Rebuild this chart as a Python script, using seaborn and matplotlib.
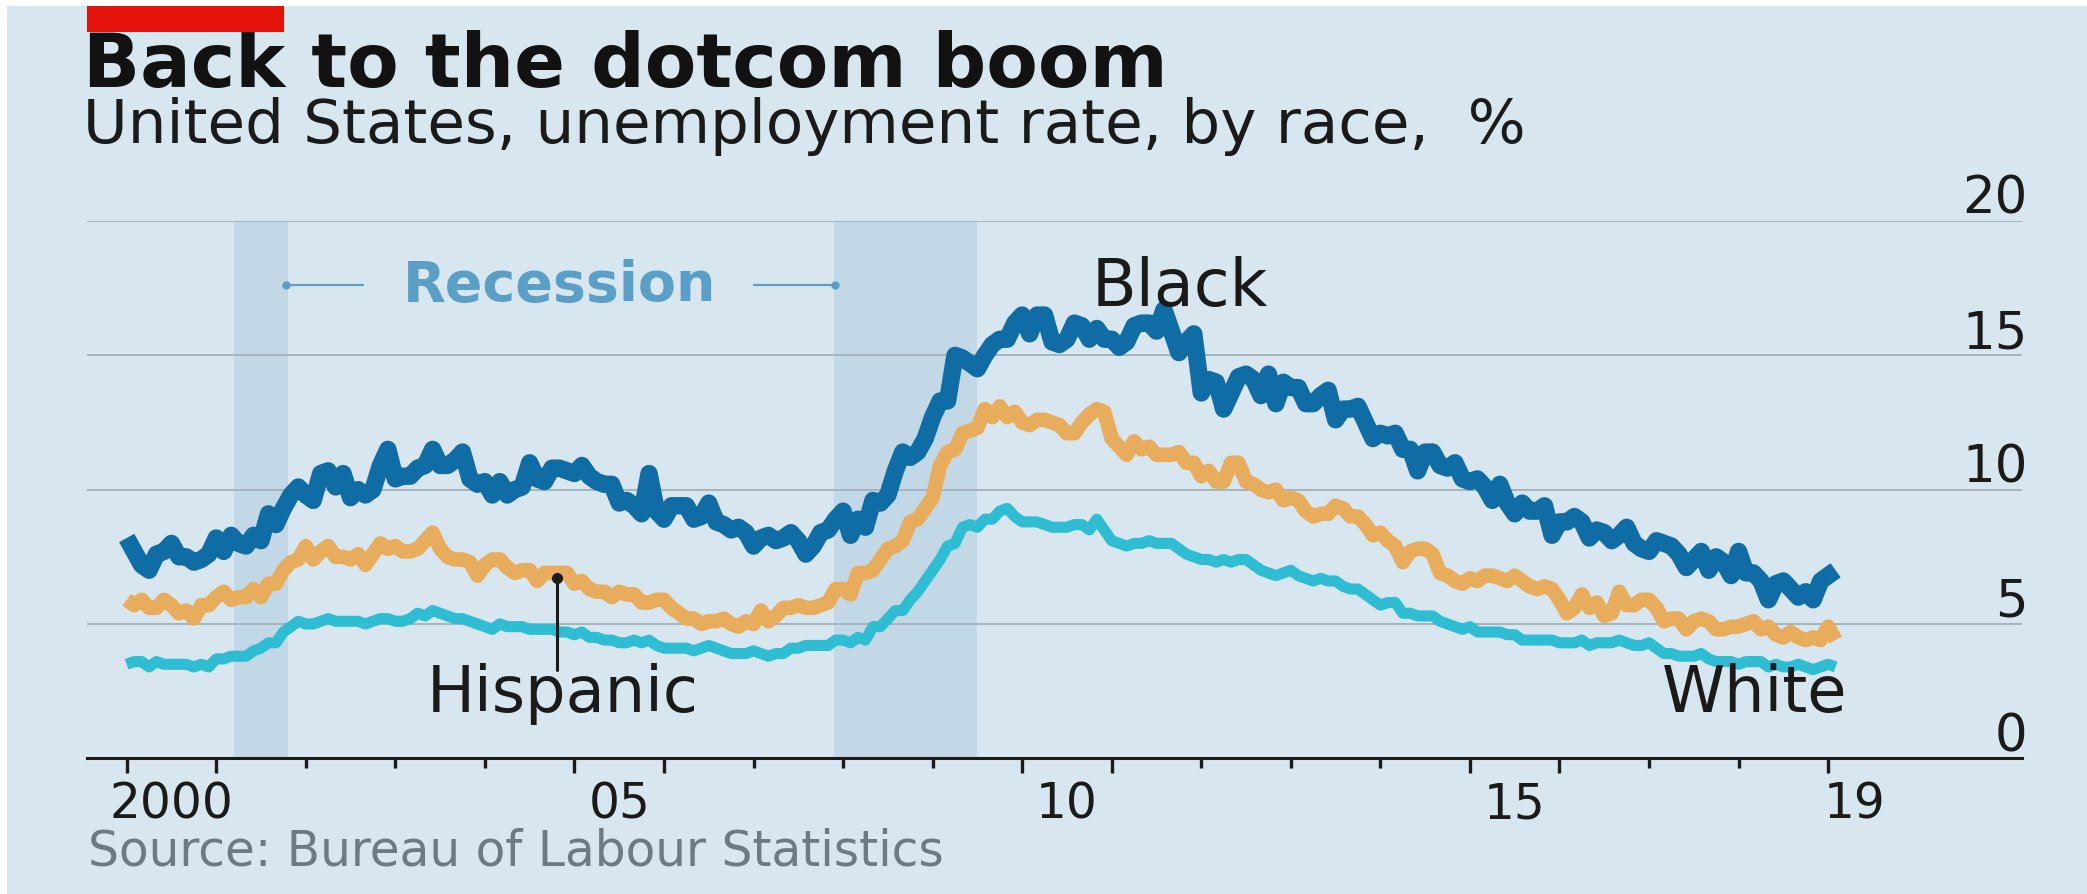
import numpy as np
import pandas as pd
import matplotlib
matplotlib.use("Agg")
import matplotlib.pyplot as plt
import matplotlib.transforms as mtransforms
from matplotlib.patches import Rectangle
import seaborn as sns

# ---------------- data (monthly, Jan 2000 - Feb 2019), % ----------------
black = [
    8.2, 7.7, 7.2, 7.0, 7.6, 7.7, 8.0, 7.5, 7.5, 7.3, 7.4, 7.6,
    8.2, 7.7, 8.3, 8.0, 7.9, 8.3, 8.1, 9.1, 8.7, 9.3, 9.8, 10.1,
    9.8, 9.6, 10.6, 10.7, 10.1, 10.6, 9.7, 10.0, 9.8, 10.0, 10.9, 11.5,
    10.4, 10.5, 10.5, 10.8, 10.9, 11.5, 10.9, 10.9, 11.1, 11.4, 10.4, 10.2,
    10.3, 9.8, 10.3, 9.8, 10.0, 10.1, 11.0, 10.4, 10.3, 10.8, 10.8, 10.7,
    10.6, 10.9, 10.5, 10.3, 10.2, 10.2, 9.5, 9.6, 9.4, 9.1, 10.6, 9.2,
    8.9, 9.4, 9.4, 9.4, 8.9, 9.0, 9.5, 8.8, 8.7, 8.5, 8.6, 8.4,
    7.9, 8.2, 8.3, 8.1, 8.2, 8.4, 8.1, 7.6, 7.9, 8.4, 8.5, 8.9,
    9.2, 8.3, 8.9, 8.6, 9.6, 9.5, 9.8, 10.7, 11.4, 11.2, 11.4, 11.9,
    12.7, 13.3, 13.3, 15.0, 14.9, 14.7, 14.5, 15.0, 15.4, 15.6, 15.6, 16.2,
    16.5, 15.8, 16.5, 16.5, 15.5, 15.4, 15.6, 16.2, 16.1, 15.6, 16.0, 15.6,
    15.6, 15.3, 15.5, 16.1, 16.2, 16.2, 15.9, 16.7, 15.9, 15.1, 15.5, 15.8,
    13.6, 14.1, 14.0, 13.0, 13.6, 14.2, 14.3, 14.1, 13.5, 14.3, 13.2, 14.0,
    13.8, 13.8, 13.2, 13.2, 13.5, 13.7, 12.6, 13.0, 13.0, 13.1, 12.5, 11.9,
    12.1, 12.0, 12.1, 11.5, 11.5, 10.7, 11.4, 11.4, 10.9, 10.8, 11.0, 10.4,
    10.3, 10.4, 10.1, 9.6, 10.2, 9.5, 9.1, 9.5, 9.2, 9.2, 9.4, 8.3,
    8.8, 8.8, 9.0, 8.8, 8.2, 8.5, 8.4, 8.1, 8.3, 8.6, 8.0, 7.8,
    7.7, 8.1, 8.0, 7.9, 7.6, 7.1, 7.4, 7.7, 7.0, 7.5, 7.3, 6.8,
    7.7, 6.9, 6.9, 6.6, 5.9, 6.5, 6.6, 6.3, 6.0, 6.2, 5.9, 6.6,
    6.8, 7.0,
]
hispanic = [
    5.9, 5.7, 5.9, 5.6, 5.6, 5.9, 5.7, 5.4, 5.5, 5.2, 5.7, 5.7,
    6.0, 6.2, 5.9, 6.0, 6.0, 6.3, 6.0, 6.5, 6.5, 7.0, 7.3, 7.4,
    7.9, 7.4, 7.7, 7.9, 7.5, 7.5, 7.4, 7.6, 7.2, 7.6, 8.0, 7.8,
    7.9, 7.7, 7.7, 7.8, 8.1, 8.4, 7.8, 7.5, 7.4, 7.4, 7.3, 6.8,
    7.2, 7.4, 7.4, 7.1, 6.9, 7.0, 7.0, 6.6, 6.9, 6.9, 6.9, 6.9,
    6.5, 6.6, 6.3, 6.2, 6.2, 6.0, 6.2, 6.1, 6.1, 5.8, 5.8, 5.9,
    5.9, 5.6, 5.4, 5.2, 5.2, 5.0, 5.1, 5.1, 5.2, 5.0, 4.9, 5.1,
    5.0, 5.5, 5.1, 5.3, 5.6, 5.6, 5.7, 5.6, 5.6, 5.7, 5.8, 6.3,
    6.3, 6.1, 6.9, 6.9, 7.0, 7.4, 7.8, 7.9, 8.1, 8.8, 8.9, 9.3,
    9.7, 10.9, 11.4, 11.5, 12.1, 12.2, 12.3, 13.0, 12.7, 13.1, 12.7, 12.9,
    12.5, 12.4, 12.6, 12.6, 12.5, 12.4, 12.1, 12.1, 12.5, 12.8, 13.0, 12.9,
    11.9, 11.6, 11.3, 11.8, 11.5, 11.6, 11.3, 11.3, 11.3, 11.4, 11.0, 11.0,
    10.5, 10.7, 10.3, 10.3, 11.0, 11.0, 10.3, 10.2, 10.0, 9.9, 10.0, 9.6,
    9.7, 9.6, 9.2, 9.0, 9.1, 9.1, 9.4, 9.3, 9.0, 9.0, 8.7, 8.3,
    8.4, 8.1, 7.9, 7.3, 7.7, 7.8, 7.8, 7.6, 6.9, 6.8, 6.6, 6.5,
    6.7, 6.6, 6.8, 6.8, 6.7, 6.6, 6.8, 6.6, 6.4, 6.3, 6.4, 6.3,
    5.9, 5.4, 5.6, 6.1, 5.6, 5.8, 5.3, 5.4, 6.2, 5.7, 5.7, 5.9,
    5.9, 5.6, 5.1, 5.2, 5.2, 4.8, 5.1, 5.2, 5.1, 4.8, 4.8, 4.9,
    4.9, 5.0, 5.1, 4.8, 4.9, 4.6, 4.5, 4.7, 4.5, 4.4, 4.5, 4.4,
    4.9, 4.4,
]
white = [
    3.5, 3.6, 3.6, 3.4, 3.6, 3.5, 3.5, 3.5, 3.5, 3.4, 3.5, 3.4,
    3.7, 3.7, 3.8, 3.8, 3.8, 4.0, 4.1, 4.3, 4.3, 4.7, 4.9, 5.1,
    5.0, 5.0, 5.1, 5.2, 5.1, 5.1, 5.1, 5.1, 5.0, 5.1, 5.2, 5.2,
    5.1, 5.1, 5.2, 5.4, 5.3, 5.5, 5.4, 5.3, 5.2, 5.2, 5.1, 5.0,
    4.9, 4.8, 5.0, 4.9, 4.9, 4.9, 4.8, 4.8, 4.8, 4.8, 4.7, 4.7,
    4.6, 4.7, 4.5, 4.5, 4.4, 4.4, 4.3, 4.3, 4.4, 4.3, 4.4, 4.2,
    4.1, 4.1, 4.1, 4.1, 4.0, 4.1, 4.2, 4.1, 4.0, 3.9, 3.9, 3.9,
    4.0, 3.9, 3.8, 3.9, 3.9, 4.1, 4.1, 4.2, 4.2, 4.2, 4.2, 4.4,
    4.4, 4.3, 4.5, 4.4, 4.9, 4.9, 5.2, 5.5, 5.5, 5.9, 6.2, 6.6,
    7.0, 7.4, 7.9, 8.0, 8.6, 8.7, 8.6, 8.9, 8.9, 9.2, 9.3, 9.0,
    8.8, 8.8, 8.8, 8.7, 8.6, 8.6, 8.6, 8.7, 8.7, 8.5, 8.9, 8.5,
    8.1, 8.0, 7.9, 8.0, 8.0, 8.1, 8.0, 8.0, 8.0, 7.8, 7.6, 7.5,
    7.4, 7.4, 7.3, 7.4, 7.3, 7.4, 7.4, 7.2, 7.0, 6.9, 6.8, 6.9,
    7.0, 6.8, 6.7, 6.6, 6.7, 6.6, 6.6, 6.4, 6.3, 6.3, 6.1, 5.9,
    5.7, 5.8, 5.8, 5.4, 5.4, 5.3, 5.3, 5.3, 5.1, 5.0, 4.9, 4.8,
    4.9, 4.7, 4.7, 4.7, 4.7, 4.6, 4.6, 4.4, 4.4, 4.4, 4.4, 4.4,
    4.3, 4.3, 4.3, 4.4, 4.2, 4.3, 4.3, 4.3, 4.4, 4.3, 4.2, 4.2,
    4.3, 4.1, 3.9, 3.9, 3.8, 3.8, 3.8, 3.9, 3.7, 3.6, 3.6, 3.6,
    3.5, 3.6, 3.6, 3.6, 3.4, 3.5, 3.4, 3.4, 3.5, 3.4, 3.3, 3.4,
    3.5, 3.4,
]
start_year = 2000
recessions = [(2001.2, 2001.8), (2007.9, 2009.5)]
y_ticks = [0, 5, 10, 15, 20]
y_labels = ["0", "5", "10", "15", "20"]
x_label_pos = [2000.5, 2005.5, 2010.5, 2015.5, 2019.3]
x_labels = ["2000", "05", "10", "15", "19"]
long_ticks = [2000, 2001, 2005, 2006, 2010, 2011, 2015, 2016, 2019]
short_ticks = [2002, 2003, 2004, 2007, 2008, 2009, 2012, 2013, 2014, 2017, 2018]

# ---------------- styling ----------------
BG = "#d8e6ef"
BAND = "#c3d8e6"
GRID = "#a5b3bd"
INK = "#1a1a1a"
colors = {"Black": "#0f6ca5", "Hispanic": "#e8ad5c", "White": "#2ebdd3"}
widths = {"Black": 12.5, "Hispanic": 10.5, "White": 8}

sns.set_theme(style="white")
plt.rcParams["font.family"] = ["DejaVu Sans"]

n = len(black)
dates = start_year + np.arange(n) / 12.0
df = pd.DataFrame({"date": dates, "Black": black, "Hispanic": hispanic, "White": white})
long_df = df.melt(id_vars="date", var_name="race", value_name="rate")

W, H = 2087, 895
fig = plt.figure(figsize=(W / 100, H / 100), dpi=100)
fig.patch.set_facecolor(BG)

ax = fig.add_axes([87 / W, (H - 759.3) / H, (2022 - 87) / W, (759.3 - 222) / H])
ax.set_facecolor(BG)

for (a, b) in recessions:
    ax.axvspan(a, b, ymin=0, ymax=1, color=BAND, lw=0, zorder=0)

for race in ["White", "Hispanic", "Black"]:
    sns.lineplot(data=long_df[long_df["race"] == race], x="date", y="rate",
                 color=colors[race], linewidth=widths[race], ax=ax,
                 legend=False, errorbar=None, zorder=3,
                 solid_capstyle="butt", solid_joinstyle="round")

ax.set_xlim(1999.557, 2021.165)
ax.set_ylim(0, 20)
ax.set_xlabel("")
ax.set_ylabel("")

for s in ["left", "right", "top"]:
    ax.spines[s].set_visible(False)
ax.spines["bottom"].set_color(INK)
ax.spines["bottom"].set_linewidth(2.2)
ax.spines["bottom"].set_zorder(5)

# y axis: gridlines with labels sitting above them, right aligned
ax.set_yticks(y_ticks)
ax.set_yticklabels(y_labels)
ax.tick_params(axis="y", left=False, right=False, labelleft=False,
               labelright=True, pad=0, labelsize=37, labelcolor=INK)
ax.grid(axis="y", color=GRID, linewidth=1.4, zorder=1)
ax.grid(axis="x", visible=False)
offset = mtransforms.ScaledTranslation(-3 / 100, 8 / 100, fig.dpi_scale_trans)
for t in ax.yaxis.get_major_ticks():
    t.label2.set_horizontalalignment("right")
    t.label2.set_verticalalignment("baseline")
    t.label2.set_transform(t.label2.get_transform() + offset)
    t.gridline.set_zorder(1)

# x axis: year-boundary ticks, labels centred within the year
ax.set_xticks(long_ticks)
ax.set_xticks(short_ticks, minor=True)
ax.tick_params(axis="x", which="major", bottom=True, length=11, width=2.4,
               color=INK, labelbottom=False, direction="out")
ax.tick_params(axis="x", which="minor", bottom=True, length=7.5, width=2.4,
               color=INK, direction="out")
sec = ax.secondary_xaxis("bottom")
sec.set_xticks(x_label_pos)
sec.set_xticklabels(x_labels)
sec.tick_params(axis="x", length=0, pad=15, labelsize=35, labelcolor=INK)
sec.spines["bottom"].set_visible(False)

# annotations
ax.text(2011.76, 16.86, "Black", ha="center", va="baseline", fontsize=47, color=INK, zorder=6)
ax.text(2004.84, 17.6, "Recession", ha="center", va="center", fontsize=40,
        fontweight="bold", color="#5b9fc6", zorder=6)
ax.plot([2001.78, 2002.64], [17.6, 17.6], color="#5b9fc6", lw=1.6, zorder=6)
ax.plot([2001.78], [17.6], "o", color="#5b9fc6", ms=5, zorder=6)
ax.plot([2007.0, 2007.91], [17.6, 17.6], color="#5b9fc6", lw=1.6, zorder=6)
ax.plot([2007.91], [17.6], "o", color="#5b9fc6", ms=5, zorder=6)
ax.text(2004.87, 1.76, "Hispanic", ha="center", va="baseline", fontsize=46, color=INK, zorder=6)
ax.plot([2004.80, 2004.80], [3.3, 6.71], color=INK, lw=2.2, zorder=6)
ax.plot([2004.80], [6.71], "o", color=INK, ms=7, zorder=6)
ax.text(2019.21, 1.76, "White", ha="right", va="baseline", fontsize=46, color=INK, zorder=6)

# titles and source
fig.text(83 / W, 1 - 87 / H, "Back to the dotcom boom", fontsize=54, fontweight="bold",
         color="#121212", va="baseline", ha="left")
fig.text(83 / W, 1 - 143 / H, "United States, unemployment rate, by race,  %", fontsize=44,
         color=INK, va="baseline", ha="left")
fig.text(88 / W, 1 - 866 / H, "Source: Bureau of Labour Statistics", fontsize=35,
         color="#6d7a84", va="baseline", ha="left")

# frame decorations: red tag and thin white border
fig.patches.append(Rectangle((87 / W, 1 - 33 / H), (284 - 87) / W, 26 / H,
                             transform=fig.transFigure, facecolor="#e3120b", lw=0, zorder=10))
fig.patches.append(Rectangle((0, 1 - 7 / H), 1, 7 / H, transform=fig.transFigure,
                             facecolor="white", lw=0, zorder=11))
fig.patches.append(Rectangle((0, 0), 7 / W, 1, transform=fig.transFigure,
                             facecolor="white", lw=0, zorder=11))

fig.savefig("out.png", dpi=100, facecolor=fig.get_facecolor())
